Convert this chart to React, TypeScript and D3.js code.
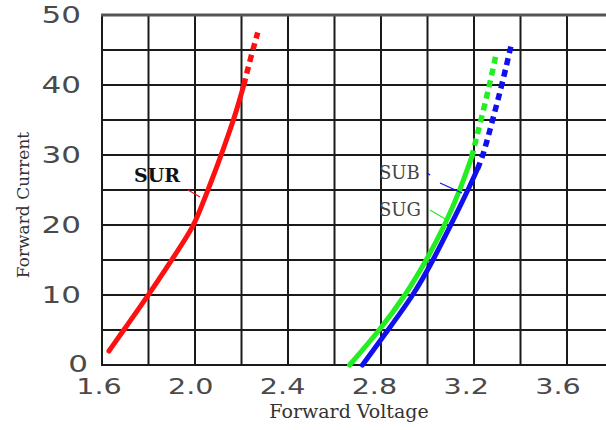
import React from "react";
import * as d3 from "d3";

const X_TICKS = [1.6, 2.0, 2.4, 2.8, 3.2, 3.6];
const Y_TICKS = [0, 10, 20, 30, 40, 50];
const X_GRID = [1.6, 1.8, 2.0, 2.2, 2.4, 2.6, 2.8, 3.0, 3.2, 3.4, 3.6, 3.8];
const Y_GRID = [0, 5, 10, 15, 20, 25, 30, 35, 40, 45, 50];

// SUR (red)
const SUR_V = [1.63, 1.7, 1.8, 1.9, 1.97, 2.0, 2.05, 2.1, 2.15, 2.18, 2.21];
const SUR_I = [2, 5.3, 10, 15, 18.6, 20.3, 24.5, 28.8, 33.5, 36.5, 40];
const SUR_DV = [2.21, 2.24, 2.27];
const SUR_DI = [40, 44, 47.5];

// SUG (green)
const SUG_V = [2.665, 2.795, 2.906, 2.996, 3.075, 3.14, 3.19];
const SUG_I = [0, 5, 10, 15, 20, 25, 29.7];
const SUG_DV = [3.19, 3.23, 3.267, 3.297];
const SUG_DI = [29.7, 35, 40, 44.7];

// SUB (blue)
const SUB_V = [2.72, 2.83, 2.94, 3.025, 3.1, 3.16, 3.215];
const SUB_I = [0, 5, 10, 15, 20, 24, 28];
const SUB_DV = [3.215, 3.24, 3.28, 3.32, 3.36];
const SUB_DI = [28, 30, 35, 40, 45.7];

const W = 606;
const H = 430;

export default function App() {
  const x = d3.scaleLinear().domain([1.6, 3.6]).range([102, 567]);
  const y = d3.scaleLinear().domain([0, 50]).range([365, 15]);
  const line = d3
    .line<[number, number]>()
    .x((d) => x(d[0]))
    .y((d) => y(d[1]))
    .curve(d3.curveBasis);
  const pts = (v: number[], i: number[]) => v.map((vv, k) => [vv, i[k]] as [number, number]);

  const RED = "#ff1010";
  const GREEN = "#22ee22";
  const BLUE = "#1010ee";

  const series = [
    { v: SUR_V, i: SUR_I, dv: SUR_DV, di: SUR_DI, c: RED },
    { v: SUG_V, i: SUG_I, dv: SUG_DV, di: SUG_DI, c: GREEN },
    { v: SUB_V, i: SUB_I, dv: SUB_DV, di: SUB_DI, c: BLUE },
  ];

  const tickFont = "'DejaVu Sans', sans-serif";
  const serif = "'DejaVu Serif', serif";

  return (
    <svg
      width={W}
      height={H}
      style={{ position: "absolute", left: 0, top: 0, background: "#fff" }}
    >
      <rect x={0} y={0} width={W} height={H} fill="#fff" />
      {/* grid */}
      {X_GRID.map((g) => (
        <line
          key={"xg" + g}
          x1={x(g)}
          x2={x(g)}
          y1={y(50)}
          y2={y(0)}
          stroke="#1a1a1a"
          strokeWidth={2}
        />
      ))}
      {Y_GRID.map((g) => (
        <line
          key={"yg" + g}
          x1={x(1.6) - 1}
          x2={W}
          y1={y(g)}
          y2={y(g)}
          stroke={g === 50 ? "#555" : "#1a1a1a"}
          strokeWidth={g === 50 ? 3 : 2}
        />
      ))}

      {/* curves */}
      {series.map((s, k) => (
        <g key={"s" + k}>
          <path d={line(pts(s.v, s.i)) || ""} fill="none" stroke={s.c} strokeWidth={5} strokeLinecap="round" />
          <path
            d={line(pts(s.dv, s.di)) || ""}
            fill="none"
            stroke={s.c}
            strokeWidth={5.5}
            strokeDasharray="7,5"
          />
        </g>
      ))}

      {/* y tick labels */}
      {Y_TICKS.map((t) => (
        <text
          key={"yt" + t}
          transform={`translate(${t === 0 ? 88 : 81},${y(t) + (t === 0 ? 7 : 8)}) scale(1.35,1)`}
          textAnchor="end"
          fontFamily={tickFont}
          fontSize={23}
          fill="#4a4a4a"
        >
          {t}
        </text>
      ))}

      {/* x tick labels */}
      {X_TICKS.map((t) => (
        <text
          key={"xt" + t}
          transform={`translate(${x(t) - 3 - (t - 1.6) * 3},${394}) scale(1.3,1)`}
          textAnchor="middle"
          fontFamily={tickFont}
          fontSize={22}
          fill="#4a4a4a"
        >
          {t.toFixed(1)}
        </text>
      ))}

      {/* axis titles */}
      <text x={349} y={418} textAnchor="middle" fontFamily={serif} fontSize={19} fill="#333">
        Forward Voltage
      </text>
      <text
        transform={`translate(29,205) rotate(-90)`}
        textAnchor="middle"
        fontFamily={serif}
        fontSize={17}
        fill="#333"
      >
        Forward Current
      </text>

      {/* series labels */}
      <text x={134} y={182} fontFamily={serif} fontSize={19} fontWeight="bold" fill="#111">
        SUR
      </text>
      <line x1={188} y1={190} x2={200} y2={197} stroke={RED} strokeWidth={1.2} />

      <text x={379} y={179} fontFamily={serif} fontSize={18} fill="#444">
        SUB
      </text>
      <line x1={427} y1={173} x2={430} y2={175} stroke={BLUE} strokeWidth={1.5} />
      <line x1={440} y1={183} x2={462} y2={193} stroke={BLUE} strokeWidth={1.2} />

      <text x={379} y={216} fontFamily={serif} fontSize={18} fill="#444">
        SUG
      </text>
      <line x1={430} y1={210} x2={447} y2={220} stroke={GREEN} strokeWidth={1.2} />
    </svg>
  );
}
